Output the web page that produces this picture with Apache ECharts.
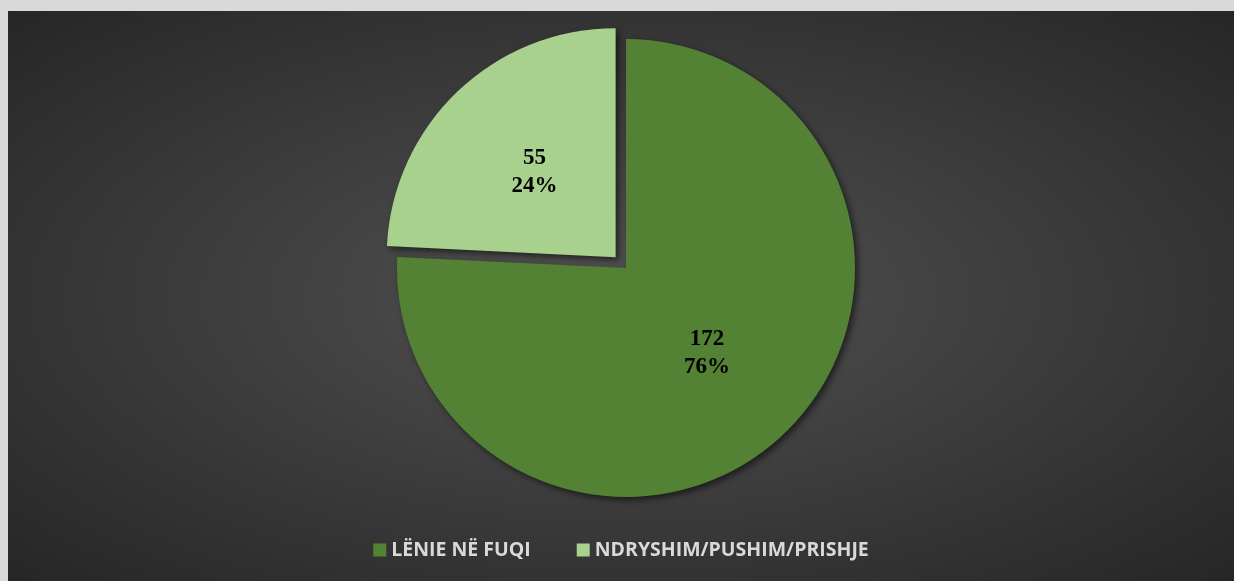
<!DOCTYPE html>
<html>
<head>
<meta charset="utf-8">
<script src="https://cdn.jsdelivr.net/npm/echarts@6/dist/echarts.min.js"></script>
<style>
html,body{margin:0;padding:0;background:#d9d9d9;}
#chart{position:absolute;left:8px;top:11px;width:1226px;height:570px;
  background: radial-gradient(ellipse farthest-corner at 50% 50%, #525252 0%, #3c3c3c 50%, #262626 100%);}
</style>
</head>
<body>
<div id="chart"></div>
<script>
const categories = ['LËNIE NË FUQI', 'NDRYSHIM/PUSHIM/PRISHJE'];
const values = [172, 55];
const colors = ['#548235', '#a9d18e'];
const selectedFlags = [false, true];

const total = values.reduce((a, b) => a + b, 0);
const chart = echarts.init(document.getElementById('chart'));
chart.setOption({
  backgroundColor: 'transparent',
  animation: false,
  legend: {
    bottom: 16,
    left: 'center',
    itemWidth: 13,
    itemHeight: 13,
    itemGap: 46,
    icon: 'rect',
    textStyle: {color: '#d9d9d9', fontFamily: 'Open Sans', fontWeight: 'bold', fontSize: 19.5},
    data: categories
  },
  series: [{
    type: 'pie',
    center: [618, 257],
    radius: 229,
    startAngle: 90,
    clockwise: true,
    selectedMode: 'multiple',
    selectedOffset: 15,
    label: {
      show: true,
      position: 'inner',
      fontFamily: 'Liberation Serif',
      fontWeight: 'bold',
      fontSize: 23,
      lineHeight: 28,
      color: '#000',
      formatter: p => p.value + '\n' + Math.round(p.value / total * 100) + '%'
    },
    labelLine: {show: false},
    itemStyle: {
      shadowBlur: 6, shadowOffsetX: 3, shadowOffsetY: 3, shadowColor: 'rgba(0,0,0,0.55)'
    },
    emphasis: {disabled: true},
    data: categories.map((c, i) => ({
      name: c, value: values[i], selected: selectedFlags[i],
      itemStyle: {color: colors[i]}
    }))
  }]
});
</script>
</body>
</html>
